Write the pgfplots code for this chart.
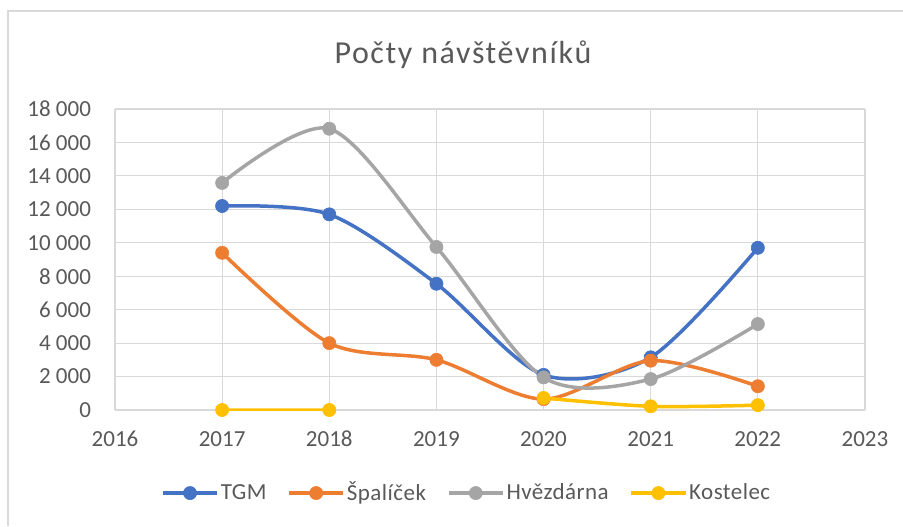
\documentclass[border=0pt]{standalone}
\usepackage{pgfplots}
\pgfplotsset{compat=1.18}
\usepackage{fontspec}
\setmainfont{Carlito}
\definecolor{tgm}{HTML}{4472C4}
\definecolor{spal}{HTML}{ED7D31}
\definecolor{hvez}{HTML}{A5A5A5}
\definecolor{kost}{HTML}{FFC000}
\definecolor{gridc}{HTML}{D9D9D9}
\definecolor{txt}{HTML}{595959}
\begin{document}
\begin{tikzpicture}[x=1pt,y=1pt]
\path[use as bounding box] (0,0) rectangle (451.5,263);
\draw[color=gridc, line width=1pt] (3.75,0) -- (3.75,257.5) -- (451.5,257.5);
\node[text=txt, font=\fontsize{16}{18}\selectfont\addfontfeature{LetterSpace=5}] at (231.5,235.5) {Počty návštěvníků};
\begin{axis}[
  at={(57.5pt,58pt)}, anchor=south west,
  scale only axis, width=375pt, height=150.5pt,
  xmin=2016, xmax=2023, ymin=0, ymax=18000,
  xtick={2016,...,2023}, ytick={0,2000,...,18000},
  grid=major, major grid style={gridc, line width=0.6pt},
  axis line style={draw=none}, tick style={draw=none},
  scaled y ticks=false,
  /pgf/number format/assume math mode=true,
  xticklabel={\pgfmathprintnumber[1000 sep={}]{\tick}},
  yticklabel style={/pgf/number format/1000 sep={\ }, font=\fontsize{11.5}{13}\selectfont, text=txt, anchor=east, xshift=-8.5pt},
  xticklabel style={font=\fontsize{11.5}{13}\selectfont, text=txt, anchor=north, yshift=-7pt},
  unbounded coords=jump,
  every axis plot/.append style={line width=1.75pt, smooth, mark=*, mark size=3.3pt},
  legend style={at={(0.469,-0.276)}, anchor=center, draw=none, fill=none,
     font=\fontsize{11.5}{13}\selectfont\addfontfeature{LetterSpace=2}, text=txt, legend columns=4,
     /tikz/every even column/.append style={column sep=9.5pt},
     nodes={inner sep=1pt}},
  legend image code/.code={\draw[mark repeat=2,mark phase=2,#1] plot coordinates {(0pt,0pt) (13.5pt,0pt) (27pt,0pt)};},
]
\addplot[color=tgm, mark options={fill=tgm, draw=tgm, line width=0.3pt}] coordinates {(2017,12200) (2018,11700) (2019,7550) (2020,2100) (2021,3150) (2022,9700)};
\addlegendentry{TGM}
\addplot[color=spal, mark options={fill=spal, draw=spal, line width=0.3pt}] coordinates {(2017,9400) (2018,4000) (2019,3000) (2020,650) (2021,2950) (2022,1420)};
\addlegendentry{Špalíček}
\addplot[color=hvez, mark options={fill=hvez, draw=hvez, line width=0.3pt}] coordinates {(2017,13580) (2018,16820) (2019,9750) (2020,1950) (2021,1850) (2022,5140)};
\addlegendentry{Hvězdárna}
\addplot[color=kost, mark options={fill=kost, draw=kost, line width=0.3pt}] coordinates {(2017,0) (2018,0) (2019,nan) (2020,720) (2021,220) (2022,290)};
\addlegendentry{Kostelec}
\end{axis}
\end{tikzpicture}
\end{document}
